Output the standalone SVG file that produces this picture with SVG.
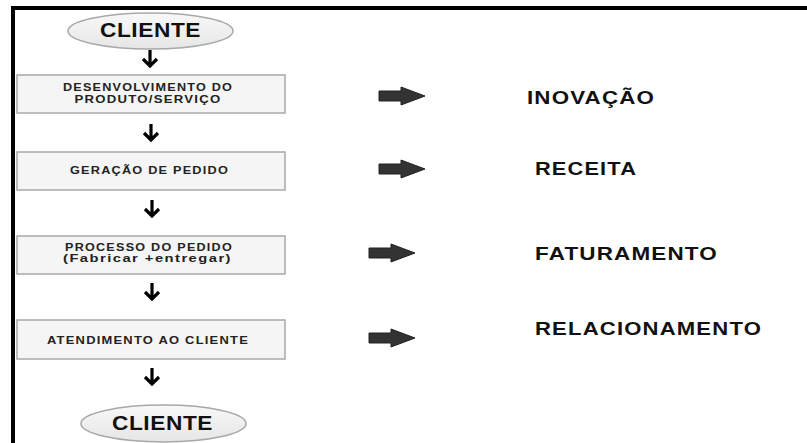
<svg xmlns="http://www.w3.org/2000/svg" width="807" height="443" viewBox="0 0 807 443">
<style>
.frame{stroke:#000;stroke-width:4;fill:none}
.ell{fill:url(#eg);stroke:#a8a8a8;stroke-width:1.5}
.box{fill:#f5f5f5;stroke:#a8a8a8;stroke-width:1.5}
.et{font-family:"Liberation Sans",Arial,sans-serif;font-weight:bold;font-size:20px;letter-spacing:0.5px;fill:#111;text-anchor:middle}
.bt{font-family:"Liberation Sans",Arial,sans-serif;font-weight:bold;font-size:10.5px;letter-spacing:1px;fill:#222;text-anchor:middle}
.bs{font-size:10px}
.lt{font-family:"Liberation Sans",Arial,sans-serif;font-weight:bold;font-size:19px;letter-spacing:1px;fill:#111}
.down{fill:none;stroke:#000;stroke-width:3.2}
.blk{fill:#333;stroke:#222;stroke-width:1;stroke-linejoin:round}
</style>
<defs>
<linearGradient id="eg" x1="0" y1="0" x2="0" y2="1">
<stop offset="0" stop-color="#f8f8f8"/>
<stop offset="1" stop-color="#e6e6e6"/>
</linearGradient>
<path id="ba" d="M0,4 H22 V0 L46,9 L22,18 V14 H0 Z"/>
</defs>
<rect width="807" height="443" fill="#fff"/>
<path class="frame" d="M13,443 V8 H807"/>

<g id="cliente-top">
<ellipse class="ell" cx="150.5" cy="31" rx="82.5" ry="18"/>
<text class="et" x="150.5" y="37" textLength="101" lengthAdjust="spacingAndGlyphs">CLIENTE</text>
</g>
<g id="desenvolvimento">
<rect class="box" x="17" y="75" width="268" height="38"/>
<text class="bt" x="148" y="91" textLength="170" lengthAdjust="spacingAndGlyphs">DESENVOLVIMENTO DO</text>
<text class="bt" x="148" y="102.5" textLength="147" lengthAdjust="spacingAndGlyphs">PRODUTO/SERVIÇO</text>
</g>
<g id="geracao">
<rect class="box" x="17" y="152" width="268" height="38"/>
<text class="bt" x="149.5" y="174" textLength="159" lengthAdjust="spacingAndGlyphs">GERAÇÃO DE PEDIDO</text>
</g>
<g id="processo">
<rect class="box" x="17" y="236" width="268" height="38"/>
<text class="bt bs" x="149" y="250.5" textLength="168" lengthAdjust="spacingAndGlyphs">PROCESSO DO PEDIDO</text>
<text class="bt bs" x="147.5" y="262" textLength="169" lengthAdjust="spacingAndGlyphs">(Fabricar +entregar)</text>
</g>
<g id="atendimento">
<rect class="box" x="17" y="320" width="268" height="39"/>
<text class="bt" x="148" y="344" textLength="202" lengthAdjust="spacingAndGlyphs">ATENDIMENTO AO CLIENTE</text>
</g>
<g id="cliente-bottom">
<ellipse class="ell" cx="163.5" cy="423.5" rx="82.5" ry="18.5"/>
<text class="et" x="162.5" y="430" textLength="101" lengthAdjust="spacingAndGlyphs">CLIENTE</text>
</g>

<g id="inovacao"><text class="lt" x="527" y="104" textLength="128" lengthAdjust="spacingAndGlyphs">INOVAÇÃO</text></g>
<g id="receita"><text class="lt" x="535" y="175" textLength="102" lengthAdjust="spacingAndGlyphs">RECEITA</text></g>
<g id="faturamento"><text class="lt" x="535" y="260" textLength="183" lengthAdjust="spacingAndGlyphs">FATURAMENTO</text></g>
<g id="relacionamento"><text class="lt" x="535" y="335" textLength="227" lengthAdjust="spacingAndGlyphs">RELACIONAMENTO</text></g>

<g id="connectors">
<path class="down" d="M150,50 V66 M143,59 L150,66 L157,59"/>
<path class="down" d="M151,124 V140 M144,133 L151,140 L158,133"/>
<path class="down" d="M152,200 V216 M145,209 L152,216 L159,209"/>
<path class="down" d="M152,283 V299 M145,292 L152,299 L159,292"/>
<path class="down" d="M152,368 V384 M145,377 L152,384 L159,377"/>
<use href="#ba" class="blk" x="379" y="87"/>
<use href="#ba" class="blk" x="379" y="160"/>
<use href="#ba" class="blk" x="369" y="244"/>
<use href="#ba" class="blk" x="369" y="329"/>
</g>
</svg>
